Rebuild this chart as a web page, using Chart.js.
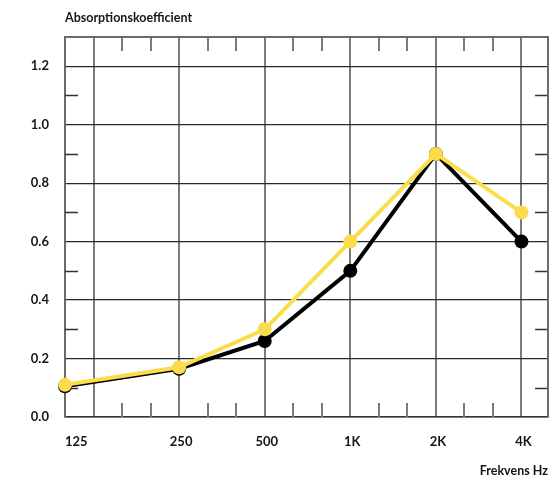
<!DOCTYPE html>
<html>
<head>
<meta charset="utf-8">
<script src="https://cdn.jsdelivr.net/npm/chart.js@4.4.1/dist/chart.umd.min.js"></script>
<style>
    html, body { margin: 0; padding: 0; background: #fff; }
    #wrap { width: 555px; height: 480px; }
</style>
</head>
<body>
<div id="wrap"><canvas id="absChart"></canvas></div>
<script>
// Data
var freqLabels = ['125', '250', '500', '1K', '2K', '4K'];
var freqPos = [0, 4, 7, 10, 13, 16];           // position on the third-octave x-axis
var yellowVals = [0.11, 0.17, 0.30, 0.60, 0.90, 0.70];
var blackVals = [0.105, 0.165, 0.26, 0.50, 0.90, 0.60];
var xGrid = [1, 4, 7, 10, 13, 16];
var xMinor = [2, 3, 5, 6, 8, 9, 11, 12, 14, 15];
var yTicks = [0, 0.2, 0.4, 0.6, 0.8, 1.0, 1.2];
var yMinor = [0.1, 0.3, 0.5, 0.7, 0.9, 1.1];

var fontName = 'Lato';
var textColor = '#161616';

function toPoints(vals) {
    return vals.map(function (v, i) { return { x: freqPos[i], y: v }; });
}

// Ram, små streck och textetiketter
var framePlugin = {
    id: 'frame',
    beforeDatasetsDraw: function (chart) {
        var ctx = chart.ctx, a = chart.chartArea;
        var xs = chart.scales.x, ys = chart.scales.y;
        ctx.save();
        ctx.strokeStyle = '#7a7a7a';
        ctx.lineWidth = 2;
        xMinor.forEach(function (v) {
            var px = Math.round(xs.getPixelForValue(v));
            ctx.beginPath();
            ctx.moveTo(px, a.top); ctx.lineTo(px, a.top + 14);
            ctx.moveTo(px, a.bottom); ctx.lineTo(px, a.bottom - 14);
            ctx.stroke();
        });
        ctx.strokeStyle = '#333';
        ctx.lineWidth = 1.5;
        yMinor.forEach(function (v) {
            var py = Math.round(ys.getPixelForValue(v)) + 0.5;
            ctx.beginPath();
            ctx.moveTo(a.left, py); ctx.lineTo(a.left + 13, py);
            ctx.moveTo(a.right, py); ctx.lineTo(a.right - 13, py);
            ctx.stroke();
        });
        // top and right border
        ctx.strokeStyle = '#6a6a6a';
        ctx.lineWidth = 2;
        ctx.beginPath();
        ctx.moveTo(a.left, a.top); ctx.lineTo(a.right, a.top); ctx.lineTo(a.right, a.bottom);
        ctx.stroke();
        ctx.restore();
    },
    afterDraw: function (chart) {
        var ctx = chart.ctx, a = chart.chartArea;
        var xs = chart.scales.x;
        ctx.save();
        ctx.fillStyle = textColor;
        ctx.font = 'bold 13px ' + fontName;
        ctx.textBaseline = 'middle';
        freqLabels.forEach(function (lab, i) {
            var px = xs.getPixelForValue(freqPos[i]);
            if (i === 0) {
                ctx.textAlign = 'left';
                ctx.fillText(lab, px, a.bottom + 25);
            } else {
                ctx.textAlign = 'center';
                ctx.fillText(lab, px + 2, a.bottom + 25);
            }
        });
        ctx.font = 'bold 12.5px ' + fontName;
        ctx.textAlign = 'left';
        ctx.fillText('Absorptionskoefficient', a.left, 18);
        ctx.textAlign = 'right';
        ctx.fillText('Frekvens Hz', a.right, 471);
        ctx.restore();
    }
};

var ctx = document.getElementById('absChart').getContext('2d');
var absChart = new Chart(ctx, {
    type: 'line',
    data: {
        datasets: [
            {
                data: toPoints(yellowVals),
                borderColor: '#fbdc4c',
                backgroundColor: '#fbdc4c',
                borderWidth: 4,
                pointRadius: 7,
                pointBorderWidth: 0,
                tension: 0,
                clip: false
            },
            {
                data: toPoints(blackVals),
                borderColor: '#000',
                backgroundColor: '#000',
                borderWidth: 4,
                pointRadius: 7,
                pointBorderWidth: 0,
                tension: 0,
                clip: false
            }
        ]
    },
    options: {
        responsive: true,
        maintainAspectRatio: false,
        animation: false,
        layout: { padding: { top: 37, right: 2, left: 0, bottom: 0 } },
        plugins: { legend: { display: false }, tooltip: { enabled: false } },
        scales: {
            x: {
                type: 'linear',
                min: 0,
                max: 16.93,
                afterBuildTicks: function (scale) {
                    scale.ticks = xGrid.map(function (v) { return { value: v }; });
                },
                afterFit: function (scale) { scale.height = 63; },
                ticks: { display: false },
                grid: { color: '#7a7a7a', lineWidth: 2, drawTicks: false },
                border: { color: '#333', width: 1.5 }
            },
            y: {
                min: 0,
                max: 1.3,
                afterBuildTicks: function (scale) {
                    scale.ticks = yTicks.map(function (v) { return { value: v }; });
                },
                afterFit: function (scale) { scale.width = 65; },
                ticks: {
                    padding: 16,
                    color: textColor,
                    font: { family: fontName, size: 13, weight: 'bold' },
                    callback: function (v) { return v.toFixed(1); }
                },
                grid: { color: '#2a2a2a', lineWidth: 1.2, drawTicks: false },
                border: { color: '#6a6a6a', width: 2 }
            }
        }
    },
    plugins: [framePlugin]
});
</script>
</body>
</html>
